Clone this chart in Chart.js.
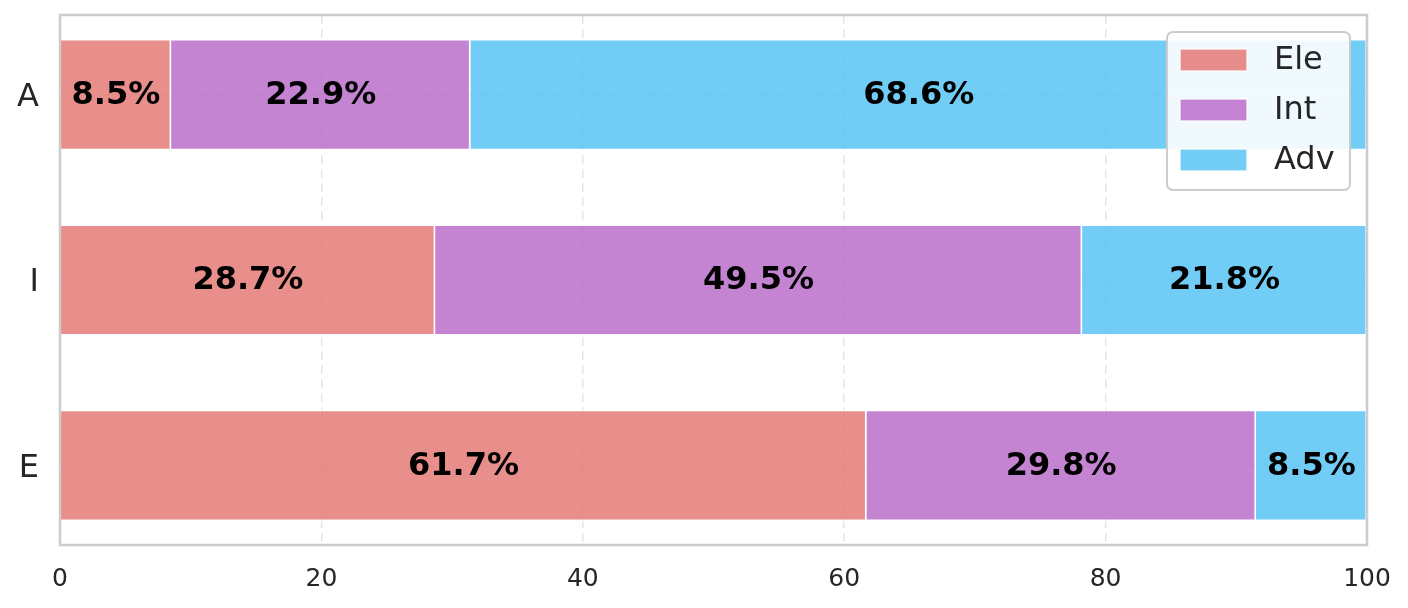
<!DOCTYPE html>
<html>
<head>
<meta charset="utf-8">
<script src="https://cdn.jsdelivr.net/npm/chart.js@4/dist/chart.umd.min.js"></script>
<style>
  html, body { margin: 0; padding: 0; background: #fff; }
  #wrap { width: 1408px; height: 608px; }
</style>
</head>
<body>
<div id="wrap"><canvas id="chart" width="1408" height="608"></canvas></div>
<script>
// categories, top to bottom
const categories = ['A', 'I', 'E'];
const seriesNames = ['Ele', 'Int', 'Adv'];
// share per level (%)
const eleValues = [8.5, 28.7, 61.7];
const intValues = [22.9, 49.5, 29.8];
const advValues = [68.6, 21.8, 8.5];
const xTicks = [0, 20, 40, 60, 80, 100];

const colors = ['rgba(228,122,119,0.85)', 'rgba(187,110,202,0.85)', 'rgba(89,196,244,0.85)'];
const FONT = "'DejaVu Sans', sans-serif";
const TXT = '#262626';

function toPoints(vals) {
  return vals.map((v, i) => ({ x: v, y: i }));
}

// labels in the middle of each segment
const barLabels = {
  id: 'barLabels',
  afterDatasetsDraw(chart) {
    const ctx = chart.ctx;
    ctx.save();
    ctx.font = 'bold 32px ' + FONT;
    ctx.fillStyle = '#000';
    ctx.textAlign = 'center';
    ctx.textBaseline = 'middle';
    chart.data.datasets.forEach((ds, di) => {
      const meta = chart.getDatasetMeta(di);
      meta.data.forEach((bar, i) => {
        const p = bar.getCenterPoint();
        ctx.fillText(ds.data[i].x.toFixed(1) + '%', p.x, p.y + 1);
      });
    });
    ctx.restore();
  }
};

// frame around plot + legend box inside top right
const frameAndLegend = {
  id: 'frameAndLegend',
  afterDraw(chart) {
    const ctx = chart.ctx;
    const ca = chart.chartArea;
    ctx.save();
    ctx.strokeStyle = '#cccccc';
    ctx.lineWidth = 2.5;
    ctx.strokeRect(ca.left, ca.top, ca.right - ca.left, ca.bottom - ca.top);

    const w = 183, h = 158;
    const x0 = ca.right - 17 - w, y0 = ca.top + 17;
    ctx.beginPath();
    ctx.roundRect(x0, y0, w, h, 6);
    ctx.fillStyle = 'rgba(255,255,255,0.9)';
    ctx.fill();
    ctx.lineWidth = 2;
    ctx.strokeStyle = '#cccccc';
    ctx.stroke();

    ctx.font = '32px ' + FONT;
    ctx.textBaseline = 'middle';
    ctx.textAlign = 'left';
    chart.data.datasets.forEach((ds, i) => {
      const cy = y0 + 28 + i * 50;
      ctx.fillStyle = ds.backgroundColor;
      ctx.fillRect(x0 + 13, cy - 11, 67, 22);
      ctx.strokeStyle = 'rgba(255,255,255,0.8)';
      ctx.lineWidth = 1.5;
      ctx.strokeRect(x0 + 13, cy - 11, 67, 22);
      ctx.fillStyle = TXT;
      ctx.fillText(ds.label, x0 + 107, cy + 1);
    });
    ctx.restore();
  }
};

const gridStyle = { color: '#e6e6e6', lineWidth: 1.5, drawTicks: false, offset: false };

function noPad(s) {
  s.paddingTop = 0; s.paddingBottom = 0; s.paddingLeft = 0; s.paddingRight = 0;
}

new Chart(document.getElementById('chart'), {
  type: 'bar',
  data: {
    datasets: [
      { label: seriesNames[0], data: toPoints(eleValues), backgroundColor: colors[0] },
      { label: seriesNames[1], data: toPoints(intValues), backgroundColor: colors[1] },
      { label: seriesNames[2], data: toPoints(advValues), backgroundColor: colors[2] }
    ]
  },
  options: {
    indexAxis: 'y',
    responsive: false,
    animation: false,
    layout: { padding: { left: 0, top: 15, right: 41, bottom: 0 } },
    datasets: {
      bar: {
        borderColor: 'rgba(255,255,255,0.9)',
        borderWidth: 1.5,
        barPercentage: 1,
        categoryPercentage: 0.6
      }
    },
    plugins: {
      legend: { display: false },
      tooltip: { enabled: false }
    },
    scales: {
      x: {
        type: 'linear',
        stacked: true,
        min: 0,
        max: 100,
        afterBuildTicks: s => { s.ticks = xTicks.map(v => ({ value: v })); },
        afterFit: s => { s.height = 63; noPad(s); },
        grid: gridStyle,
        border: { display: false, dash: [9, 5] },
        ticks: { color: TXT, font: { family: FONT, size: 25 }, padding: 19 }
      },
      y: {
        type: 'linear',
        stacked: true,
        reverse: true,
        offset: false,
        min: -0.43,
        max: 2.43,
        afterBuildTicks: s => { s.ticks = categories.map((c, i) => ({ value: i })); },
        afterFit: s => { s.width = 60; noPad(s); },
        grid: gridStyle,
        border: { display: false, dash: [9, 5] },
        ticks: {
          color: TXT,
          font: { family: FONT, size: 32, lineHeight: 1.0 },
          padding: 21,
          labelOffset: 3,
          callback: v => categories[v]
        }
      }
    }
  },
  plugins: [barLabels, frameAndLegend]
});
</script>
</body>
</html>
